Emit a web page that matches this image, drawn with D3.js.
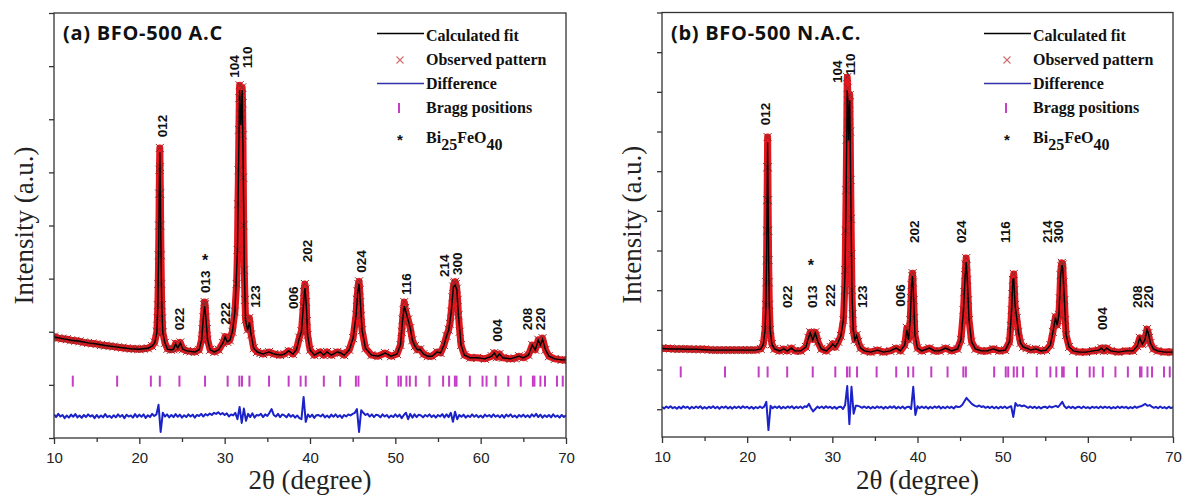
<!DOCTYPE html>
<html>
<head>
<meta charset="utf-8">
<script src="https://cdn.jsdelivr.net/npm/d3@7/dist/d3.min.js"></script>
<style>
  body { margin: 0; background: #fff; }
  svg { display: block; }
</style>
</head>
<body>
<div id="chart"></div>
<script>
// ---------- data ----------
const xMajorTicks = [10, 20, 30, 40, 50, 60, 70];
const xMinorTicks = [15, 25, 35, 45, 55, 65];
const yTicksA = [0, 1000, 2000, 3000, 4000, 5000, 6000, 7000, 8000];
const yTicksB = [0, 1000, 2000, 3000, 4000, 5000, 6000, 7000, 8000, 9000, 10000];

// BiFeO3 (R3c) reflections, 2theta
const braggPositions = [12.2, 17.4, 21.35, 22.4, 24.7, 27.7, 30.35, 31.72, 32.03, 32.9, 35.2, 37.5, 38.9, 39.5,
  41.62, 43.53, 45.38, 45.68, 49.0, 50.36, 50.65, 51.3, 51.7, 52.4, 54.0, 55.6, 56.3, 56.98, 57.17,
  58.73, 60.22, 60.69, 61.76, 63.24, 64.7, 66.12, 66.3, 67.0, 67.54, 68.94, 69.62];

// (a) BFO-500 A.C
const calcA = [[10,1900],[11,1870],[12,1840],[13,1820],[14,1790],[15,1770],[16,1740],[17,1720],[18,1700],[19,1680],[20,1670],[21,1690],[21.5,1730],[21.8,1790],[22.05,1980],[22.17,2500],[22.26,3440],[22.33,4570],[22.4,5380],[22.47,4570],[22.54,3440],[22.63,2500],[22.75,1980],[23,1790],[23.3,1670],[23.7,1660],[24,1670],[24.25,1770],[24.5,1690],[24.8,1790],[25.1,1670],[25.6,1640],[26.5,1620],[27,1660],[27.3,1840],[27.5,2260],[27.65,2480],[27.8,2260],[28,1840],[28.3,1660],[28.8,1620],[29.3,1660],[29.8,1790],[30.05,1900],[30.3,1810],[30.6,1840],[30.9,2000],[31.2,2370],[31.5,3540],[31.62,5040],[31.75,6550],[31.9,5890],[32.05,6550],[32.18,5040],[32.3,3160],[32.45,2220],[32.7,2030],[32.9,2180],[33.1,1940],[33.4,1690],[33.8,1620],[34.5,1580],[35.2,1620],[35.8,1580],[36.5,1560],[37,1580],[37.5,1640],[38,1580],[38.4,1660],[38.75,1880],[39,2000],[39.22,2480],[39.4,2820],[39.55,2560],[39.72,1940],[40,1660],[40.5,1560],[41.2,1620],[41.6,1560],[42,1620],[42.5,1560],[43.2,1620],[43.6,1600],[44,1560],[44.6,1660],[45.05,1880],[45.4,2310],[45.6,2750],[45.75,2900],[45.9,2560],[46.1,2030],[46.5,1690],[47.2,1560],[48,1540],[48.8,1600],[49.5,1540],[50.2,1580],[50.6,1750],[50.85,2220],[51.05,2480],[51.25,2370],[51.5,2220],[51.75,2070],[52,1840],[52.3,1730],[52.6,1660],[52.9,1670],[53.3,1580],[53.8,1540],[54.3,1540],[54.9,1620],[55.3,1600],[55.7,1750],[56,1920],[56.25,2030],[56.55,2370],[56.8,2840],[57,2880],[57.2,2800],[57.4,2310],[57.7,1750],[58.1,1560],[58.8,1510],[59.6,1510],[60.5,1490],[61.3,1540],[61.6,1600],[61.9,1520],[62.2,1580],[62.6,1510],[63.5,1490],[64.5,1540],[65,1510],[65.6,1560],[66.05,1750],[66.4,1660],[66.75,1840],[67,1750],[67.25,1860],[67.6,1660],[68,1540],[68.7,1490],[69.5,1470],[70,1470]];

const obsA = [[10,1910],[10.5,1880],[11,1870],[11.5,1860],[12,1840],[12.5,1830],[13,1820],[13.5,1800],[14,1790],[14.5,1780],[15,1770],[15.5,1750],[16,1740],[16.5,1730],[17,1720],[17.5,1710],[18,1700],[18.5,1690],[19,1680],[19.5,1680],[20,1670],[20.5,1680],[21,1690],[21.5,1730],[21.8,1800],[22.05,2000],[22.12,2250],[22.17,2500],[22.22,2900],[22.26,3440],[22.3,4000],[22.33,4600],[22.36,5050],[22.4,5460],[22.43,5100],[22.47,4600],[22.5,4000],[22.54,3440],[22.58,2900],[22.63,2500],[22.68,2250],[22.75,1990],[23,1790],[23.3,1680],[23.7,1660],[24,1670],[24.25,1780],[24.5,1690],[24.8,1800],[25.1,1670],[25.6,1640],[26,1630],[26.5,1620],[27,1660],[27.3,1850],[27.4,2050],[27.5,2270],[27.6,2500],[27.65,2560],[27.7,2520],[27.8,2270],[27.9,2050],[28,1850],[28.3,1660],[28.8,1620],[29.3,1660],[29.8,1790],[30.05,1910],[30.3,1810],[30.6,1840],[30.9,2000],[31.2,2380],[31.4,2900],[31.5,3540],[31.56,4400],[31.62,5040],[31.67,5800],[31.72,6400],[31.75,6640],[31.8,6400],[31.85,6100],[31.9,5900],[31.95,6100],[32,6450],[32.05,6600],[32.1,6300],[32.14,5700],[32.18,4900],[32.23,4000],[32.3,3160],[32.38,2600],[32.45,2230],[32.7,2040],[32.9,2260],[33.1,1950],[33.4,1690],[33.8,1620],[34.2,1600],[34.5,1580],[35.2,1620],[35.8,1580],[36.5,1560],[37,1580],[37.5,1640],[38,1580],[38.4,1660],[38.75,1890],[39,2010],[39.22,2480],[39.3,2750],[39.4,2900],[39.48,2800],[39.55,2560],[39.63,2200],[39.72,1940],[40,1660],[40.5,1560],[41.2,1620],[41.6,1560],[42,1620],[42.5,1560],[43.2,1620],[43.6,1600],[44,1560],[44.6,1660],[45.05,1880],[45.4,2320],[45.5,2600],[45.58,2760],[45.67,2900],[45.75,2950],[45.82,2780],[45.9,2560],[45.98,2300],[46.1,2030],[46.5,1690],[47.2,1560],[48,1540],[48.8,1600],[49.5,1540],[50.2,1580],[50.6,1750],[50.75,2000],[50.85,2230],[50.95,2400],[51.05,2560],[51.15,2450],[51.25,2370],[51.5,2230],[51.75,2070],[52,1840],[52.3,1730],[52.6,1660],[52.9,1670],[53.3,1580],[53.8,1540],[54.3,1540],[54.9,1620],[55.3,1600],[55.7,1750],[56,1920],[56.25,2040],[56.4,2150],[56.55,2380],[56.7,2650],[56.8,2850],[56.9,2920],[57,2940],[57.1,2900],[57.2,2810],[57.3,2600],[57.4,2310],[57.55,2000],[57.7,1750],[58.1,1560],[58.8,1510],[59.6,1510],[60.5,1490],[61.3,1540],[61.6,1600],[61.9,1520],[62.2,1580],[62.6,1510],[63.5,1490],[64,1500],[64.5,1540],[65,1510],[65.6,1560],[66.05,1750],[66.4,1660],[66.75,1850],[67,1760],[67.25,1880],[67.6,1660],[68,1540],[68.7,1490],[69.5,1470],[70,1470]];

// difference Yobs - Ycalc, every 0.25 deg from 10 to 70
const diffA = [
  30,-20,40,-10, 20,-40,10,-30, 25,-15,35,-25, 10,-35,20,-20, 30,-10,15,-40,
  20,-30,10,-25, 35,-20,5,-35, 15,-25,30,-15, 20,-40,25,-10, 10,-30,35,-20,
  25,-15,30,-35, 15,-20,40,0, 30,210,-300,60, -10,30,-25,20, -20,35,-15,25,
  -30,15,-20,30, -10,25,-30,20, 0,40,-10,35, 10,45,20,60, 40,70,30,55,
  20,50,-10,30, 10,60,-60,170, -130,140,-90,40, -20,50,-30,20, 10,40,-20,30,
  0,60,130,20, -10,40,-20,30, 10,-25,35,-15, 20,-30,10,-40, -60,360,-110,30,
  -20,25,-35,15, 20,-10,30,-25, 10,-30,25,-15, 30,-20,15,-35, 20,-10,30,10,
  40,60,130,-300, 110,60,20,40, -10,30,-20,25, 15,-25,30,-10, 20,-30,10,-20,
  30,-15,25,-40, 20,60,-60,40, -30,30,-20,25, 10,-25,20,-10, 30,-20,15,-30,
  20,-10,35,-25, 30,-20,60,-110, 80,-60,20,-15, 25,-30,10,-20, 30,-15,20,-25,
  10,-30,25,-10, 20,-20,30,-15, 15,-25,20,-30, 25,-10,30,-20, 10,-30,20,-15,
  25,-20,15,-25, 30,-10,40,-20, 25,-30,15,-20, 20,-25,30,-15, 10,-30,20,-20,
  15];
const diffOffsetA = 414;
const braggLevelA = 1070;

const labelsA = [["012",22.66,5660],["104",31.21,6780],["110",32.62,6960],["022",24.65,2030],["013",27.75,2730],
  ["222",30.04,2130],["123",33.67,2450],["006",38.01,2430],["202",39.71,3310],["024",45.98,3110],["116",51.25,2690],
  ["214",55.76,3030],["300",57.29,3070],["004",61.97,1810],["208",65.49,2030],["220",67.01,2030]];
const starA = [27.7, 3410];

// (b) BFO-500 N.A.C.
const calcB = [[10,1530],[11,1520],[12,1520],[13,1510],[14,1510],[15,1500],[16,1490],[17,1490],[18,1490],[19,1490],[20,1490],[21,1490],[21.6,1520],[21.9,1640],[22.1,2000],[22.2,2630],[22.28,3760],[22.34,5270],[22.4,6730],[22.46,5270],[22.52,3760],[22.6,2630],[22.7,2000],[22.9,1640],[23.2,1520],[23.8,1470],[24.3,1520],[24.7,1470],[25.2,1540],[25.6,1470],[26.3,1470],[26.9,1570],[27.2,1800],[27.4,1920],[27.7,1750],[28,1920],[28.3,1700],[28.7,1520],[29.3,1470],[29.8,1570],[30.05,1640],[30.35,1570],[30.7,1700],[31,1850],[31.3,2250],[31.5,3510],[31.62,5520],[31.75,8040],[31.83,7790],[31.9,6780],[31.97,7410],[32.05,7790],[32.15,5780],[32.3,3010],[32.45,2000],[32.65,1750],[32.85,1850],[33.05,1700],[33.3,1540],[33.8,1470],[34.5,1440],[35.3,1490],[36,1440],[36.8,1470],[37.5,1540],[38,1470],[38.5,1620],[38.75,2000],[38.95,1750],[39.15,2250],[39.3,3130],[39.42,3360],[39.55,2750],[39.7,1870],[40,1540],[40.5,1470],[41.4,1540],[42,1470],[42.6,1470],[43.3,1540],[44,1470],[44.7,1520],[45.1,1750],[45.4,2500],[45.6,3380],[45.72,3710],[45.85,3260],[46.05,2250],[46.35,1700],[46.8,1520],[47.5,1470],[48.2,1470],[48.9,1520],[49.6,1470],[50.3,1490],[50.8,1700],[51.05,2500],[51.2,3260],[51.3,3310],[51.45,2630],[51.65,2300],[51.85,1950],[52.1,1670],[52.4,1570],[52.8,1540],[53.3,1490],[53.9,1520],[54.5,1470],[55.1,1490],[55.6,1620],[55.9,1950],[56.2,2300],[56.4,2120],[56.6,2380],[56.8,3380],[56.95,3630],[57.05,3560],[57.25,2750],[57.45,1870],[57.8,1570],[58.3,1470],[59,1440],[59.8,1440],[60.6,1470],[61.3,1490],[61.6,1540],[61.9,1470],[62.2,1540],[62.7,1470],[63.6,1440],[64.5,1470],[65.3,1470],[65.8,1590],[66.1,1800],[66.4,1640],[66.7,1750],[66.95,2000],[67.1,1920],[67.35,1670],[67.7,1520],[68.2,1470],[69,1440],[70,1440]];

const obsB = [[10,1540],[10.5,1530],[11,1530],[11.5,1520],[12,1520],[12.5,1520],[13,1520],[13.5,1510],[14,1510],[14.5,1510],[15,1510],[15.5,1500],[16,1490],[16.5,1490],[17,1490],[17.5,1490],[18,1490],[18.5,1490],[19,1490],[19.5,1490],[20,1490],[20.5,1490],[21,1490],[21.6,1520],[21.9,1640],[22.1,2000],[22.2,2630],[22.25,3200],[22.28,3760],[22.31,4500],[22.34,5270],[22.37,6100],[22.4,6860],[22.43,6100],[22.46,5270],[22.49,4500],[22.52,3760],[22.56,3200],[22.6,2630],[22.7,2000],[22.9,1640],[23.2,1520],[23.8,1470],[24.3,1520],[24.7,1470],[25.2,1540],[25.6,1470],[26.3,1470],[26.9,1570],[27.2,1800],[27.4,1940],[27.55,1850],[27.7,1760],[27.85,1850],[28,1940],[28.15,1850],[28.3,1700],[28.7,1520],[29.3,1470],[29.8,1570],[30.05,1650],[30.35,1570],[30.7,1700],[31,1850],[31.3,2250],[31.45,3000],[31.5,3510],[31.56,4500],[31.62,5520],[31.68,6800],[31.75,8370],[31.8,8100],[31.83,7790],[31.87,7200],[31.9,6780],[31.94,7100],[31.97,7410],[32.01,7700],[32.05,7920],[32.1,7000],[32.15,5780],[32.2,4800],[32.25,3900],[32.3,3010],[32.38,2400],[32.45,2000],[32.65,1750],[32.85,1870],[33.05,1700],[33.3,1540],[33.8,1470],[34.5,1440],[35.3,1490],[36,1440],[36.8,1470],[37.5,1540],[38,1470],[38.5,1620],[38.75,2050],[38.95,1750],[39.15,2250],[39.25,2800],[39.3,3130],[39.38,3350],[39.42,3430],[39.48,3200],[39.55,2750],[39.62,2300],[39.7,1870],[40,1540],[40.5,1470],[41.4,1540],[42,1470],[42.6,1470],[43.3,1540],[44,1470],[44.7,1520],[45.1,1750],[45.4,2500],[45.5,2950],[45.6,3380],[45.66,3650],[45.72,3810],[45.78,3600],[45.85,3260],[45.95,2750],[46.05,2250],[46.35,1700],[46.8,1520],[47.5,1470],[48.2,1470],[48.9,1520],[49.6,1470],[50.3,1490],[50.8,1700],[50.95,2100],[51.05,2500],[51.13,2900],[51.2,3260],[51.3,3410],[51.38,3000],[51.45,2630],[51.55,2450],[51.65,2300],[51.85,1950],[52.1,1670],[52.4,1570],[52.8,1540],[53.3,1490],[53.9,1520],[54.5,1470],[55.1,1490],[55.6,1620],[55.9,1950],[56.05,2150],[56.2,2330],[56.3,2250],[56.4,2120],[56.6,2380],[56.7,2800],[56.8,3380],[56.88,3600],[56.95,3690],[57.05,3650],[57.15,3200],[57.25,2750],[57.35,2250],[57.45,1870],[57.8,1570],[58.3,1470],[59,1440],[59.8,1440],[60.6,1470],[61.3,1490],[61.6,1540],[61.9,1470],[62.2,1540],[62.7,1470],[63.6,1440],[64.5,1470],[65.3,1470],[65.8,1590],[66.1,1800],[66.4,1640],[66.7,1750],[66.85,1900],[66.95,2020],[67.1,1920],[67.2,1800],[67.35,1670],[67.7,1520],[68.2,1470],[69,1440],[70,1440]];

const diffB = [
  20,-30,25,-15, 30,-20,10,-35, 15,-25,30,-10, 20,-35,15,-20, 25,-15,30,-30,
  10,-25,20,-15, 30,-20,15,-35, 20,-10,25,-25, 15,-30,20,-15, 25,-20,30,-10,
  20,-25,15,-30, 10,-20,25,-15, 20,140,-570,40, -20,25,-15,30, -25,15,-20,25,
  -10,30,-25,20, -15,25,-20,30, 10,90,-20,-100, -40,20,-15,25, -20,30,-10,20,
  -25,15,-30,10, 20,-40,60,540, -420,520,-160,40, 40,20,-10,25, -15,20,-25,15,
  -20,25,-10,20, -30,15,-20,25, -10,30,-25,15, -20,25,-30,10, 20,-40,520,-190,
  30,-20,25,-15, 20,-30,15,-20, 25,-10,30,-25, 15,-20,25,-15, 20,-25,30,10,
  20,60,150,240, 180,120,70,40, 20,50,10,30, -10,20,-15,25, -20,15,-25,20,
  -15,25,-20,10, 30,-240,110,40, 60,30,50,20, -10,25,-15,20, -20,15,-25,10,
  20,-15,30,0, 20,40,10,70, 140,30,-20,25, -15,20,-25,10, 15,-20,25,-15,
  10,-25,20,-10, 15,-20,25,-15, 20,-10,15,-25, 10,-20,25,-15, 20,-10,15,-25,
  10,-20,25,-10, 20,30,60,90, 40,60,20,-10, 15,-20,25,-15, 10,-25,20,-15,
  10];
const diffOffsetB = 45;
const braggLevelB = 940;

const labelsB = [["012",22.21,7160],["104",30.66,8220],["110",32.19,8420],["022",24.74,2550],["013",27.67,2550],
  ["222",29.84,2580],["123",33.54,2550],["006",38.0,2580],["202",39.59,4190],["024",45.11,4190],["116",50.39,4190],
  ["214",55.32,4190],["300",56.61,4190],["004",61.72,2000],["208",65.83,2550],["220",67.18,2550]];
const starB = [27.49, 3710];

const legendItems = ["Calculated fit", "Observed pattern", "Difference", "Bragg positions"];

// ---------- drawing ----------
const W = 1182, H = 495;
const svg = d3.select('#chart').append('svg').attr('width', W).attr('height', H);

const serif = "'Liberation Serif', 'Times New Roman', serif";
const sans = "'Liberation Sans', Arial, sans-serif";
const cross = 'M-4,-4L4,4M-4,4L4,-4';

function drawPanel(p) {
    const x = d3.scaleLinear().domain([10, 70]).range([p.left, p.right]);
    const y = d3.scaleLinear().domain(p.yDomain).range([p.bottom, p.top]);
    const g = svg.append('g');

    const clipId = 'clip-' + p.id;
    svg.append('clipPath').attr('id', clipId)
        .append('rect')
        .attr('x', p.left).attr('y', p.top)
        .attr('width', p.right - p.left).attr('height', p.bottom - p.top);

    const plot = g.append('g').attr('clip-path', `url(#${clipId})`);
    const line = d3.line().x(d => x(d[0])).y(d => y(d[1]));

    // observed pattern: red band + x markers
    plot.append('path')
        .datum(p.obs)
        .attr('d', line)
        .attr('fill', 'none')
        .attr('stroke', '#e5161d')
        .attr('stroke-width', 7)
        .attr('stroke-linejoin', 'round')
        .attr('stroke-linecap', 'round');

    plot.selectAll('.obs')
        .data(p.obs)
        .join('path')
        .attr('class', 'obs')
        .attr('d', cross)
        .attr('transform', d => `translate(${x(d[0])},${y(d[1])})`)
        .attr('stroke', '#8e2a2a')
        .attr('stroke-width', 1);

    // calculated fit
    plot.append('path')
        .datum(p.calc)
        .attr('d', line)
        .attr('fill', 'none')
        .attr('stroke', '#000')
        .attr('stroke-width', 1.4);

    // bragg positions
    plot.selectAll('.bragg')
        .data(braggPositions)
        .join('line')
        .attr('class', 'bragg')
        .attr('x1', d => x(d)).attr('x2', d => x(d))
        .attr('y1', y(p.braggLevel) - 5.5)
        .attr('y2', y(p.braggLevel) + 5.5)
        .attr('stroke', '#c63ec6')
        .attr('stroke-width', 2);

    // difference
    const diffPts = p.diff.map((d, i) => [10 + i * 0.25, d + p.diffOffset]);
    plot.append('path')
        .datum(diffPts)
        .attr('d', line)
        .attr('fill', 'none')
        .attr('stroke', '#1b22c8')
        .attr('stroke-width', 2)
        .attr('stroke-linejoin', 'round');

    // frame
    g.append('rect')
        .attr('x', p.left).attr('y', p.top)
        .attr('width', p.right - p.left).attr('height', p.bottom - p.top)
        .attr('fill', 'none')
        .attr('stroke', '#333')
        .attr('stroke-width', 1.3);

    // axes
    const xAxis = d3.axisBottom(x).tickValues(xMajorTicks).tickSize(6).tickSizeOuter(0)
        .tickPadding(8).tickFormat(d3.format('d'));
    const xMinor = d3.axisBottom(x).tickValues(xMinorTicks).tickSize(4).tickSizeOuter(0).tickFormat('');
    const yAxis = d3.axisLeft(y).tickValues(p.yTicks).tickSize(5).tickSizeOuter(0).tickFormat('');

    const gx = g.append('g').attr('transform', `translate(0,${p.bottom})`).call(xAxis);
    g.append('g').attr('transform', `translate(0,${p.bottom})`).call(xMinor);
    g.append('g').attr('transform', `translate(${p.left},0)`).call(yAxis);
    g.selectAll('.domain').remove();
    g.selectAll('.tick line').attr('stroke', '#333').attr('stroke-width', 1.3);
    gx.selectAll('text')
        .attr('font-family', sans)
        .attr('font-size', 15)
        .attr('fill', '#222');

    // axis titles
    g.append('text')
        .attr('transform', `translate(${p.left - 21},${(p.top + p.bottom) / 2}) rotate(-90)`)
        .attr('text-anchor', 'middle')
        .attr('font-family', serif)
        .attr('font-size', 27)
        .attr('fill', '#222')
        .text('Intensity (a.u.)');

    g.append('text')
        .attr('x', (p.left + p.right) / 2)
        .attr('y', 489)
        .attr('text-anchor', 'middle')
        .attr('font-family', serif)
        .attr('font-size', 27)
        .attr('fill', '#222')
        .text('2θ (degree)');

    // panel title
    g.append('text')
        .attr('x', p.left + 9)
        .attr('y', 40)
        .attr('font-family', "'Open Sans', sans-serif")
        .attr('font-weight', 700)
        .attr('font-size', 20)
        .attr('letter-spacing', 0.7)
        .attr('fill', '#111')
        .text(p.title);

    // peak indices
    g.selectAll('.hkl')
        .data(p.labels)
        .join('text')
        .attr('class', 'hkl')
        .attr('transform', d => `translate(${x(d[1])},${y(d[2])}) rotate(-90)`)
        .attr('dominant-baseline', 'central')
        .attr('font-family', sans)
        .attr('font-weight', 700)
        .attr('font-size', 13.5)
        .attr('fill', '#111')
        .text(d => d[0]);

    g.append('text')
        .attr('x', x(p.star[0]))
        .attr('y', y(p.star[1]) + 9)
        .attr('text-anchor', 'middle')
        .attr('font-family', sans)
        .attr('font-weight', 700)
        .attr('font-size', 16)
        .attr('fill', '#111')
        .text('*');

    // legend
    const lx0 = p.right - 189, lx1 = p.right - 142, sx = p.right - 166, tx = p.right - 140;
    const rowY = [41, 65, 89, 113];
    const lg = g.append('g');
    lg.selectAll('text.item')
        .data(legendItems)
        .join('text')
        .attr('class', 'item')
        .attr('x', tx)
        .attr('y', (d, i) => rowY[i])
        .attr('font-family', serif)
        .attr('font-weight', 700)
        .attr('font-size', 16)
        .attr('fill', '#111')
        .text(d => d);
    lg.append('line').attr('x1', lx0).attr('x2', lx1).attr('y1', 33.5).attr('y2', 33.5)
        .attr('stroke', '#000').attr('stroke-width', 1.6);
    lg.append('path').attr('d', 'M-3.5,-3.5L3.5,3.5M-3.5,3.5L3.5,-3.5')
        .attr('transform', `translate(${sx},60)`)
        .attr('stroke', '#cf6a6a').attr('stroke-width', 1.1);
    lg.append('line').attr('x1', lx0).attr('x2', lx1).attr('y1', 83.5).attr('y2', 83.5)
        .attr('stroke', '#3232a8').attr('stroke-width', 1.6);
    lg.append('line').attr('x1', sx - 1).attr('x2', sx - 1).attr('y1', 103).attr('y2', 113)
        .attr('stroke', '#c63ec6').attr('stroke-width', 2);
    lg.append('text').attr('x', sx).attr('y', 145).attr('text-anchor', 'middle')
        .attr('font-family', sans).attr('font-weight', 700).attr('font-size', 15).attr('fill', '#111')
        .text('*');
    const bi = lg.append('text').attr('x', tx).attr('y', 143)
        .attr('font-family', serif).attr('font-weight', 700).attr('font-size', 16).attr('fill', '#111');
    bi.append('tspan').text('Bi');
    bi.append('tspan').attr('dy', 7).text('25');
    bi.append('tspan').attr('dy', -7).text('FeO');
    bi.append('tspan').attr('dy', 7).text('40');
}

drawPanel({
    id: 'a', title: '(a) BFO-500 A.C',
    left: 54, right: 566, top: 13, bottom: 438,
    yDomain: [0, 8000], yTicks: yTicksA,
    calc: calcA, obs: obsA, diff: diffA, diffOffset: diffOffsetA,
    braggLevel: braggLevelA, labels: labelsA, star: starA
});

drawPanel({
    id: 'b', title: '(b) BFO-500 N.A.C.',
    left: 662, right: 1173, top: 12.5, bottom: 437,
    yDomain: [-700, 10000], yTicks: yTicksB,
    calc: calcB, obs: obsB, diff: diffB, diffOffset: diffOffsetB,
    braggLevel: braggLevelB, labels: labelsB, star: starB
});
</script>
</body>
</html>
